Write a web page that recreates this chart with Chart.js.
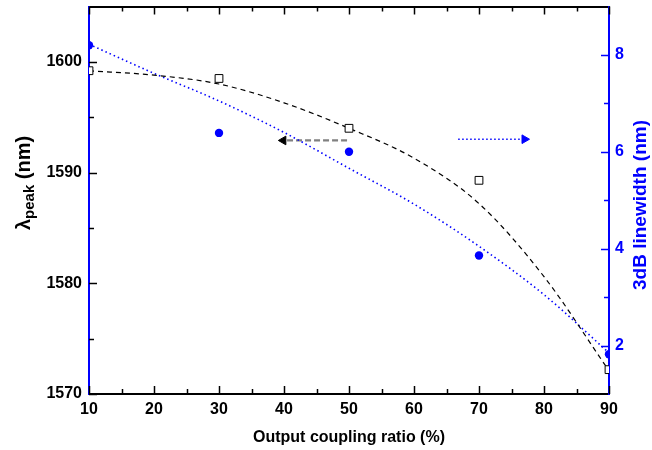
<!DOCTYPE html>
<html><head><meta charset="utf-8">
<script src="https://cdn.jsdelivr.net/npm/chart.js@4/dist/chart.umd.min.js"></script>
<style>html,body{margin:0;padding:0;background:#fff}</style>
</head><body>
<canvas id="c" width="652" height="450"></canvas>
<script>
// ---- data ----
const couplingRatio = [10, 30, 50, 70, 90];
const peakWavelength = [1599.2, 1598.5, 1594.0, 1589.3, 1572.2];
const linewidth3dB = [8.2, 6.39, 6.0, 3.86, 1.82];
const fitRatio = [10, 20, 30, 40, 50, 60, 70, 80, 90];
const peakFit = [1599.2, 1598.8, 1598.0, 1596.3, 1594.0, 1591.3, 1587.2, 1580.6, 1572.1];
const linewidthFit = [8.22, 7.62, 7.05, 6.40, 5.66, 4.92, 4.05, 3.05, 1.85];
const arrowPeakX = [49.7, 39.9];
const arrowPeakY = [1592.9, 1592.9];
const arrowWidthX = [66.8, 77.0];
const arrowWidthY = [6.26, 6.26];
// ---- ticks & labels ----
const xTickValues = [10, 20, 30, 40, 50, 60, 70, 80, 90];
const xMinorValues = [15, 25, 35, 45, 55, 65, 75, 85];
const leftTickValues = [1570, 1580, 1590, 1600];
const leftMinorValues = [1575, 1585, 1595];
const rightTickValues = [2, 4, 6, 8];
const rightMinorValues = [3, 5, 7];
const xTitle = 'Output coupling ratio (%)';
const leftTitleParts = ['\u03BB', 'peak', ' (nm)'];
const rightTitle = '3dB linewidth (nm)';

const BLUE = '#0000ff';
const FONT = "'Liberation Sans', Arial, Helvetica, sans-serif";
Chart.defaults.font.family = FONT;

const pts = (xs, ys) => xs.map((x, i) => ({x: x, y: ys[i]}));
const plain = v => String(v);

const inwardTicks = {
  id: 'inwardTicks',
  afterDraw(chart) {
    const {ctx, chartArea: a, scales} = chart;
    ctx.save();
    ctx.lineWidth = 1.5;
    const vx = (vals, len, color) => {
      ctx.strokeStyle = color;
      vals.forEach(v => {
        const px = Math.round(scales.x.getPixelForValue(v)) + 0.5;
        ctx.beginPath(); ctx.moveTo(px, a.bottom); ctx.lineTo(px, a.bottom - len); ctx.stroke();
        ctx.beginPath(); ctx.moveTo(px, a.top); ctx.lineTo(px, a.top + len); ctx.stroke();
      });
    };
    const vy = (scale, vals, len, color, side) => {
      ctx.strokeStyle = color;
      vals.forEach(v => {
        const py = Math.round(scale.getPixelForValue(v)) + 0.5;
        ctx.beginPath();
        if (side === 'left') { ctx.moveTo(a.left, py); ctx.lineTo(a.left + len, py); }
        else { ctx.moveTo(a.right, py); ctx.lineTo(a.right - len, py); }
        ctx.stroke();
      });
    };
    vx(xTickValues, 8, '#000');
    vx(xMinorValues, 5, '#000');
    vy(scales.y, leftTickValues, 8, '#000', 'left');
    vy(scales.y, leftMinorValues, 5, '#000', 'left');
    vy(scales.y1, rightTickValues, 8, BLUE, 'right');
    vy(scales.y1, rightMinorValues, 5, BLUE, 'right');
    ctx.restore();
  }
};

const yTitles = {
  id: 'yTitles',
  afterDraw(chart) {
    const {ctx} = chart;
    ctx.save();
    const big = 'bold 20px ' + FONT, small = 'bold 15px ' + FONT;
    ctx.textBaseline = 'middle';
    ctx.textAlign = 'left';
    ctx.fillStyle = '#000';
    const fonts = [big, small, big];
    const offs = [0, 6, 0];
    const widths = leftTitleParts.map((t, i) => { ctx.font = fonts[i]; return ctx.measureText(t).width; });
    const total = widths.reduce((s, w) => s + w, 0);
    ctx.translate(24, 183);
    ctx.rotate(-Math.PI / 2);
    let cx = -total / 2;
    leftTitleParts.forEach((t, i) => { ctx.font = fonts[i]; ctx.fillText(t, cx, offs[i]); cx += widths[i]; });
    ctx.restore();
    ctx.save();
    ctx.font = 'bold 19px ' + FONT;
    ctx.fillStyle = BLUE;
    ctx.textAlign = 'center';
    ctx.textBaseline = 'middle';
    ctx.translate(641, 205);
    ctx.rotate(-Math.PI / 2);
    ctx.fillText(rightTitle, 0, 0);
    ctx.restore();
  }
};

const noPad = s => { s.paddingTop = 0; s.paddingBottom = 0; s.paddingLeft = 0; s.paddingRight = 0; };

new Chart(document.getElementById('c'), {
  type: 'line',
  data: {
    datasets: [
      { label: 'peak', data: pts(couplingRatio, peakWavelength), yAxisID: 'y', showLine: false,
        pointStyle: 'rect', pointRadius: 5.5, pointBorderWidth: 1, pointBorderColor: '#000', pointBackgroundColor: '#fff', clip: 0 },
      { label: 'linewidth', data: pts(couplingRatio, linewidth3dB), yAxisID: 'y1', showLine: false,
        pointStyle: 'circle', pointRadius: 4.2, pointBorderWidth: 0, pointBackgroundColor: BLUE, pointBorderColor: BLUE, clip: 0 },
      { label: 'peakFit', data: pts(fitRatio, peakFit), yAxisID: 'y', borderColor: '#000', borderWidth: 1.2,
        borderDash: [5, 4], pointRadius: 0, cubicInterpolationMode: 'monotone', fill: false, clip: 0 },
      { label: 'linewidthFit', data: pts(fitRatio, linewidthFit), yAxisID: 'y1', borderColor: BLUE, borderWidth: 1.6,
        borderDash: [1.5, 3], pointRadius: 0, cubicInterpolationMode: 'monotone', fill: false, clip: 0 },
      { label: 'arrowPeak', data: pts(arrowPeakX, arrowPeakY), yAxisID: 'y', borderColor: '#808080', borderWidth: 2.2,
        borderDash: [6, 3], pointRadius: [0, 5], pointStyle: 'triangle', pointRotation: 270,
        pointBackgroundColor: '#000', pointBorderColor: '#000', pointBorderWidth: 1, clip: 0 },
      { label: 'arrowWidth', data: pts(arrowWidthX, arrowWidthY), yAxisID: 'y1', borderColor: BLUE, borderWidth: 1.6,
        borderDash: [1.5, 2.5], pointRadius: [0, 5], pointStyle: 'triangle', pointRotation: 90,
        pointBackgroundColor: BLUE, pointBorderColor: BLUE, pointBorderWidth: 1, clip: 0 }
    ]
  },
  options: {
    responsive: false,
    animation: false,
    devicePixelRatio: 1,
    events: [],
    layout: { padding: 0 },
    plugins: { legend: { display: false }, tooltip: { enabled: false } },
    scales: {
      x: {
        type: 'linear', position: 'bottom', min: 10, max: 90,
        afterBuildTicks: s => { s.ticks = xTickValues.map(v => ({value: v})); },
        afterFit: s => { s.height = 56; noPad(s); },
        grid: { display: false, drawTicks: false },
        border: { display: true, color: '#000', width: 2 },
        ticks: { color: '#000', font: { size: 16, weight: 'bold' }, padding: 6, maxRotation: 0, autoSkip: false, callback: plain },
        title: { display: true, text: xTitle, color: '#000', font: { size: 16, weight: 'bold' }, padding: { top: 0, bottom: 3 } }
      },
      x2: {
        type: 'linear', position: 'top', min: 10, max: 90,
        afterFit: s => { s.height = 5; noPad(s); },
        grid: { display: false, drawTicks: false },
        border: { display: true, color: '#000', width: 2 },
        ticks: { display: false }
      },
      y: {
        type: 'linear', position: 'left', min: 1570, max: 1605,
        afterBuildTicks: s => { s.ticks = leftTickValues.map(v => ({value: v})); },
        afterFit: s => { s.width = 89; noPad(s); },
        grid: { display: false, drawTicks: false },
        border: { display: true, color: BLUE, width: 2 },
        ticks: { color: '#000', font: { size: 16, weight: 'bold' }, padding: 7, callback: plain }
      },
      y1: {
        type: 'linear', position: 'right', min: 1, max: 9,
        afterBuildTicks: s => { s.ticks = rightTickValues.map(v => ({value: v})); },
        afterFit: s => { s.width = 43; noPad(s); },
        grid: { display: false, drawTicks: false },
        border: { display: true, color: BLUE, width: 2 },
        ticks: { color: BLUE, font: { size: 16, weight: 'bold' }, padding: 6, callback: plain }
      }
    }
  },
  plugins: [inwardTicks, yTitles]
});
</script>
</body></html>
